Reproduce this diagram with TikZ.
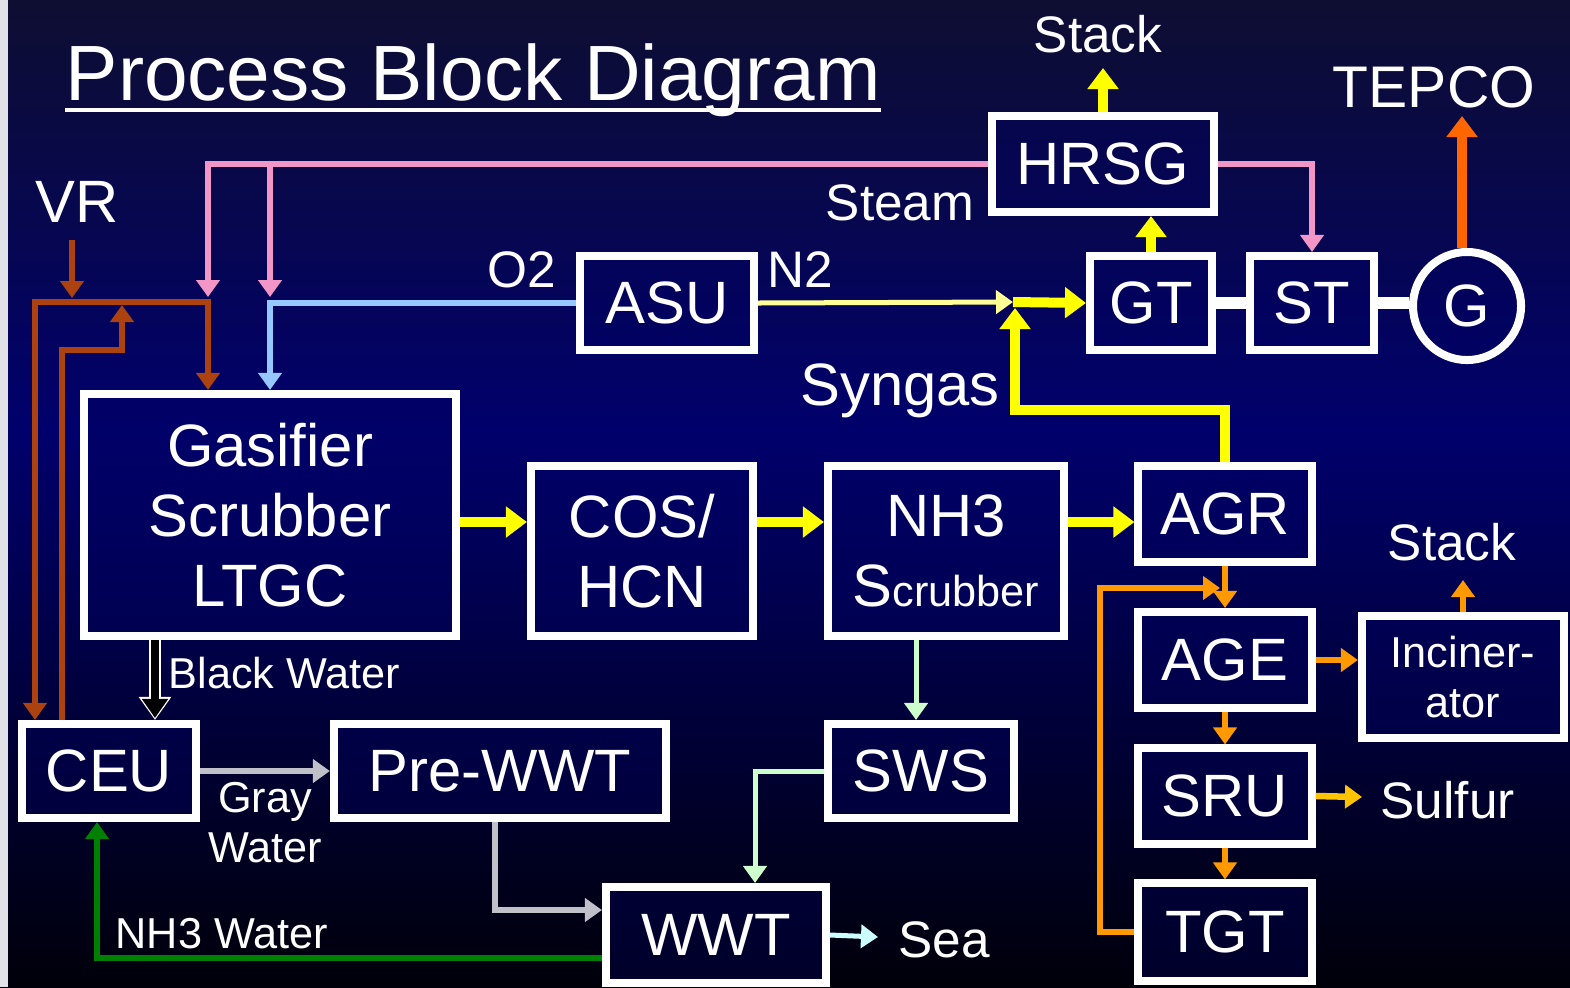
\documentclass[tikz,border=0pt]{standalone}
\usepackage{fontspec}
\setmainfont{Liberation Sans}
\usetikzlibrary{arrows.meta}
\usepackage{color}
\definecolor{bgtop}{RGB}{14,14,50}
\definecolor{bgmid}{RGB}{0,0,108}
\definecolor{bgbot}{RGB}{0,0,10}
\definecolor{boxfill}{RGB}{0,0,100}
\definecolor{steamc}{RGB}{242,150,200}
\definecolor{vrc}{RGB}{172,66,16}
\definecolor{oxyc}{RGB}{150,200,255}
\definecolor{nitroc}{RGB}{255,255,150}
\definecolor{gasc}{RGB}{255,255,0}
\definecolor{acidc}{RGB}{255,153,0}
\definecolor{sulfc}{RGB}{255,196,0}
\definecolor{powerc}{RGB}{255,102,0}
\definecolor{grayc}{RGB}{192,192,200}
\definecolor{swsc}{RGB}{204,255,204}
\definecolor{seac}{RGB}{204,255,255}
\definecolor{ammc}{RGB}{0,128,0}
\definecolor{stripc}{RGB}{225,225,232}
\newcommand\boxfont{\fontsize{17}{20}\selectfont}
\newcommand\lblfont{\fontsize{14.6}{17}\selectfont}
\newcommand\smlfont{\fontsize{12.3}{14.2}\selectfont}
\newcommand\titlefont{\fontsize{22.3}{26}\selectfont}

\begin{document}
\begin{tikzpicture}[x=0.01cm, y=-0.01cm,
  blk/.style={draw=white, line width=0.08cm, fill=boxfill, fill opacity=0.35,
    text opacity=1, text=white, inner sep=0pt, align=center, font=\boxfont},
  lbl/.style={text=white, inner sep=0pt, font=\lblfont, align=center},
  tip/.style={-{Triangle[length=0.17cm,width=0.23cm]}},
  bigtip/.style={-{Triangle[length=0.21cm,width=0.3cm]}},
  steam/.style={draw=steamc, line width=0.06cm, tip},
  feed/.style={draw=vrc, line width=0.065cm, tip},
  oxy/.style={draw=oxyc, line width=0.065cm, tip},
  nitro/.style={draw=nitroc, line width=0.05cm, tip},
  gasflow/.style={draw=gasc, line width=0.1cm, bigtip},
  acid/.style={draw=acidc, line width=0.065cm, tip},
  sulf/.style={draw=sulfc, line width=0.065cm, tip},
  power/.style={draw=powerc, line width=0.1cm, bigtip},
  grayw/.style={draw=grayc, line width=0.065cm, tip},
  swsw/.style={draw=swsc, line width=0.05cm, tip},
  seaw/.style={draw=seac, line width=0.05cm, tip},
  ammw/.style={draw=ammc, line width=0.055cm, tip},
  shaft/.style={draw=white, line width=0.12cm}]
  \useasboundingbox (0,0) rectangle (1570,987);
  \shade[top color=bgtop, bottom color=bgmid] (0,0) rectangle (1570,430);
  \shade[top color=bgmid, bottom color=bgbot] (0,430) rectangle (1570,987);
  \fill[stripc] (0,0) rectangle (8,987);

  \node[lbl, anchor=base west, font=\titlefont] (title) at (65,100) {Process Block Diagram};
  \draw[white, line width=0.035cm] ([yshift=-0.1cm]title.base west) -- ([yshift=-0.1cm]title.base east);

  \node[blk, minimum width=2.22cm, minimum height=0.96cm] (hrsg) at (1103,164) {HRSG};
  \node[blk, minimum width=1.22cm, minimum height=0.94cm] (gt) at (1151,303) {GT};
  \node[blk, minimum width=1.24cm, minimum height=0.94cm] (st) at (1312,303) {ST};
  \node[blk, circle, minimum size=1.08cm] (gen) at (1467,306) {G};
  \node[blk, minimum width=1.73cm, minimum height=0.94cm] (asu) at (667,303) {ASU};
  \node[blk, minimum width=3.72cm, minimum height=2.42cm] (gas) at (270,515) {Gasifier\\Scrubber\\LTGC};
  \node[blk, minimum width=2.22cm, minimum height=1.69cm] (cos) at (642,551) {COS/\\HCN};
  \node[blk, minimum width=2.36cm, minimum height=1.69cm] (nh3) at (946,551) {NH3\\S{\smlfont crubber}};
  \node[blk, minimum width=1.73cm, minimum height=0.95cm] (agr) at (1225,514) {AGR};
  \node[blk, minimum width=1.73cm, minimum height=0.96cm] (age) at (1225,660) {AGE};
  \node[blk, minimum width=1.73cm, minimum height=0.95cm] (sru) at (1225,796) {SRU};
  \node[blk, minimum width=1.73cm, minimum height=0.97cm] (tgt) at (1225,932) {TGT};
  \node[blk, minimum width=2.02cm, minimum height=1.22cm, font=\smlfont] (inc) at (1463,677) {Inciner-\\ator};
  \node[blk, minimum width=1.74cm, minimum height=0.94cm] (ceu) at (109,771) {CEU};
  \node[blk, minimum width=3.32cm, minimum height=0.94cm] (pre) at (500,771) {Pre-WWT};
  \node[blk, minimum width=1.86cm, minimum height=0.94cm] (sws) at (921,771) {SWS};
  \node[blk, minimum width=2.20cm, minimum height=0.96cm] (wwt) at (716,935) {WWT};

  \node[lbl, anchor=base] (stack1) at (1098,52) {Stack};
  \node[lbl, anchor=base, font=\fontsize{16.7}{20}\selectfont] (tepco) at (1434,107) {TEPCO};
  \node[lbl, anchor=base west, font=\boxfont] (vr) at (35,222) {VR};
  \node[lbl, anchor=base] (steamlbl) at (900,220) {Steam};
  \node[lbl, anchor=base] (o2) at (522,287) {O2};
  \node[lbl, anchor=base] (n2) at (800,287) {N2};
  \node[lbl, anchor=base, font=\boxfont] (syngas) at (900,405) {Syngas};
  \node[lbl, anchor=base west, font=\smlfont] (blackw) at (168,688) {Black Water};
  \node[lbl, anchor=base, font=\smlfont] (grayl) at (265,812) {Gray};
  \node[lbl, anchor=base, font=\smlfont] (grayl2) at (265,862) {Water};
  \node[lbl, anchor=base west, font=\smlfont] (nh3w) at (115,948) {NH3 Water};
  \node[lbl, anchor=base west] (sea) at (898,957) {Sea};
  \node[lbl, anchor=base] (stack2) at (1452,560) {Stack};
  \node[lbl, anchor=base west] (sulfur) at (1380,818) {Sulfur};

  \coordinate (stL) at (208,297);
  \coordinate (stsplit) at (270,164);
  \coordinate (stR) at (270,297);
  \coordinate (vrtop) at (72,240);
  \coordinate (vrjoin) at (72,298);
  \coordinate (brL) at (35,302);
  \coordinate (brR) at (208,302);
  \coordinate (rcA) at (62,350);
  \coordinate (rcB) at (122,350);
  \coordinate (rcTip) at (122,305);
  \coordinate (mix) at (1013,302);
  \coordinate (mixb) at (1015,308);
  \coordinate (sgbend) at (1015,410);
  \coordinate (stk1) at (1103,68);
  \coordinate (gy) at (0,522);
  \coordinate (tgL) at (1100,588);
  \coordinate (tgTip) at (1220,588);
  \coordinate (stk2) at (1462,580);
  \coordinate (sultip) at (1362,797);
  \coordinate (tepcotip) at (1462,116);
  \coordinate (bwX) at (155,0);
  \coordinate (pwbend) at (495,910);
  \coordinate (swX) at (916,0);
  \coordinate (swB) at (755,0);
  \coordinate (seatip) at (878,937);
  \coordinate (nwbend) at (97,958);

  \draw[steam] (hrsg.west) -| (stL);
  \draw[steam] (stsplit) -- (stR);
  \draw[steam] (hrsg.east) -| (st.north);
  \draw[feed] (vrtop) -- (vrjoin);
  \draw[feed, {Triangle[length=0.17cm,width=0.23cm]}-{Triangle[length=0.17cm,width=0.23cm]}]
    (ceu.north -| brL) -- (brL) -- (brR) -- (gas.north -| brR);
  \draw[feed] (ceu.north -| rcA) -- (rcA) -- (rcB) -- (rcTip);
  \draw[oxy] (asu.west) -| (gas.north -| stR);
  \draw[nitro] (asu.east) -- (mix);
  \draw[gasflow] (mix) -- (gt.west);
  \draw[gasflow] (agr.north) |- (sgbend) -- (mixb);
  \draw[gasflow] (gt.north) -- (gt.north |- hrsg.south);
  \draw[gasflow] (hrsg.north) -- (stk1);
  \draw[gasflow] (gas.east |- gy) -- (cos.west |- gy);
  \draw[gasflow] (cos.east |- gy) -- (nh3.west |- gy);
  \draw[gasflow] (nh3.east |- gy) -- (agr.west |- gy);
  \draw[acid] (agr.south) -- (age.north);
  \draw[acid] (tgt.west) -| (tgL) -- (tgTip);
  \draw[acid] (age.east) -- (inc.west |- age.east);
  \draw[acid] (age.south) -- (sru.north);
  \draw[acid] (sru.south) -- (tgt.north);
  \draw[acid] (inc.north) -- (inc.north |- stk2);
  \draw[sulf] (sru.east) -- (sultip);
  \draw[power] (gen.north -| tepcotip) -- (tepcotip);
  \draw[shaft] (gt.east) -- (st.west);
  \draw[shaft] (st.east) -- (st.east -| gen.west);
  \draw[white, line width=0.12cm, -{Triangle[length=0.23cm,width=0.31cm]}] (gas.south -| bwX) -- (ceu.north -| bwX);
  \draw[black, line width=0.085cm, -{Triangle[length=0.19cm,width=0.25cm]}] (gas.south -| bwX) -- ([yshift=0.02cm]ceu.north -| bwX);
  \draw[grayw] (ceu.east) -- (pre.west);
  \draw[grayw] (pre.south -| pwbend) |- (wwt.west |- pwbend);
  \draw[swsw] (nh3.south -| swX) -- (sws.north -| swX);
  \draw[swsw] (sws.west) -| (wwt.north -| swB);
  \draw[seaw] (wwt.east) -- (seatip);
  \draw[ammw] (wwt.west |- nwbend) -| (ceu.south -| nwbend);
\end{tikzpicture}
\end{document}
